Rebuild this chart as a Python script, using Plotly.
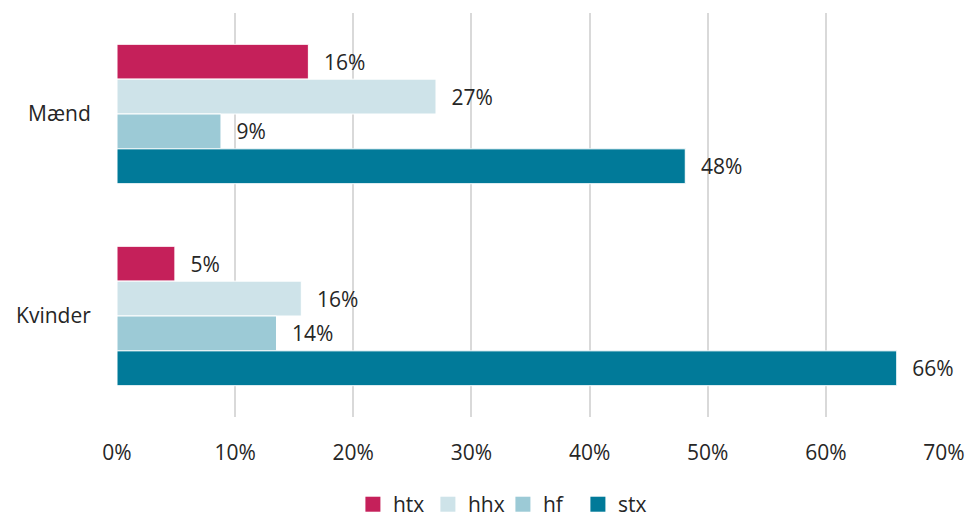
import plotly.graph_objects as go

categories = ["Mænd", "Kvinder"]
series = ["htx", "hhx", "hf", "stx"]
htx = [16.2, 4.9]
hhx = [27.0, 15.6]
hf = [8.8, 13.5]
stx = [48.1, 66.0]
values = [htx, hhx, hf, stx]
colors = ["#C5205A", "#CEE3E9", "#9CCAD6", "#017A99"]
x_ticks = [0, 10, 20, 30, 40, 50, 60, 70]
x_ticklabels = [f"{t}%" for t in x_ticks]

FONT = "Open Sans"
FS = 21
TXT = "#262626"
fig = go.Figure()
for name, vals, col in zip(series, values, colors):
    fig.add_trace(go.Bar(
        y=categories, x=vals, name=name, orientation="h",
        marker=dict(color=col, line=dict(color="white", width=1)),
        texttemplate="\u2002\u200a%{x:.0f}%", textposition="outside",
        constraintext="none",
        textfont=dict(family=FONT, size=FS, color=TXT),
        cliponaxis=False, showlegend=False, legendgroup=name,
    ))
# legend entries with larger square swatches
for name, col in zip(series, colors):
    fig.add_trace(go.Scatter(
        x=[None], y=[None], mode="markers", name=name, legendgroup=name,
        marker=dict(symbol="square", size=15, color=col), showlegend=True,
    ))

fig.update_layout(
    width=969, height=517,
    margin=dict(l=117, r=25, t=13, b=100, autoexpand=False),
    paper_bgcolor="white", plot_bgcolor="white",
    barmode="group", bargap=0.31, bargroupgap=0,
    font=dict(family=FONT, size=FS, color=TXT),
    xaxis=dict(range=[0, 70], tickvals=x_ticks, ticktext=x_ticklabels,
               showgrid=True, gridcolor="#D9D9D9", gridwidth=2,
               zeroline=False, showline=False, automargin=False,
               ticks="outside", ticklen=17, tickcolor="rgba(0,0,0,0)",
               tickfont=dict(family=FONT, size=FS, color=TXT)),
    yaxis=dict(autorange="reversed", showgrid=False, zeroline=False, showline=False,
               automargin=False, categoryorder="array", categoryarray=categories,
               ticks="outside", ticklen=21, tickcolor="rgba(0,0,0,0)",
               tickfont=dict(family=FONT, size=FS, color=TXT)),
    legend=dict(orientation="h", xref="container", x=0.519, xanchor="center",
                yref="paper", y=-0.166, yanchor="top",
                font=dict(family=FONT, size=FS, color=TXT),
                itemwidth=30, entrywidth=30, traceorder="normal"),
    showlegend=True,
)

fig.write_html("out.html", config={"displayModeBar": False},
               post_script="document.body.style.margin='0';document.body.style.overflow='hidden';")
